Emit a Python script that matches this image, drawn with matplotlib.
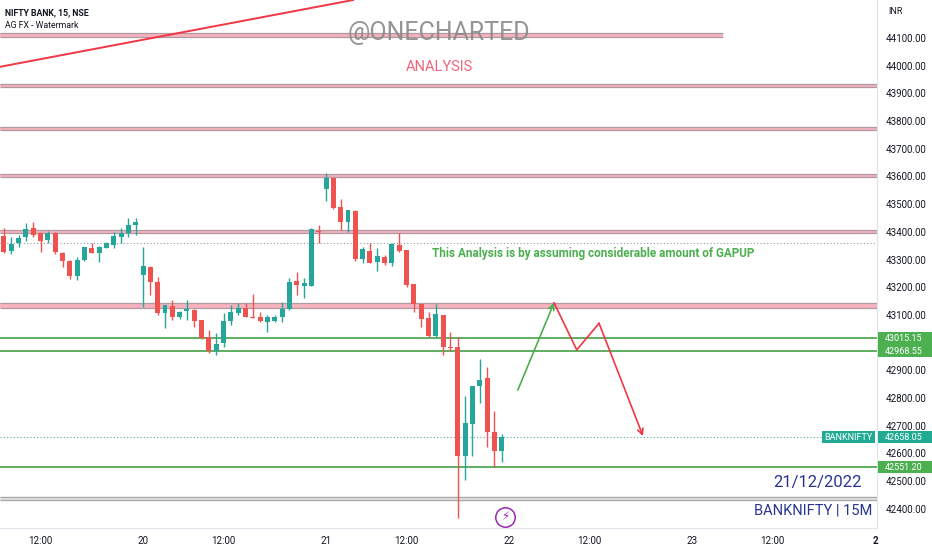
import matplotlib
matplotlib.use("Agg")
import matplotlib.pyplot as plt
import matplotlib.transforms as mtransforms
from matplotlib.patches import Rectangle
import numpy as np

plt.rcParams['font.family'] = ['Roboto', 'DejaVu Sans']

# 15 minute candles, bar index 0 = first bar of the 20th
first_bar = -19
opens = [43385, 43332, 43359, 43383, 43414, 43397, 43371, 43395, 43323, 43296,
         43241, 43299, 43341, 43323, 43343, 43353, 43382, 43395, 43425,
         43244, 43272, 43219, 43106, 43133, 43092, 43115, 43118, 43082, 43022,
         42971, 43000, 43078, 43108, 43126, 43094, 43094, 43076, 43079, 43094,
         43121, 43223, 43205, 43206, 43404,
         43554, 43594, 43491, 43435, 43475, 43301, 43331, 43292, 43311, 43287,
         43353, 43335, 43211, 43140, 43088, 43024, 43100, 42986, 42986, 42591,
         42707, 42844, 42874, 42677, 42610]
highs = [43413, 43381, 43389, 43433, 43436, 43400, 43403, 43401, 43329, 43300,
         43308, 43347, 43359, 43349, 43364, 43401, 43413, 43449, 43449,
         43347, 43277, 43236, 43136, 43154, 43113, 43154, 43120, 43082, 43046,
         43034, 43106, 43136, 43144, 43142, 43175, 43112, 43100, 43100, 43148,
         43233, 43254, 43233, 43413, 43425,
         43612, 43594, 43518, 43479, 43479, 43344, 43361, 43341, 43317, 43359,
         43397, 43335, 43211, 43140, 43112, 43140, 43100, 43040, 43020, 42808,
         42844, 42940, 42913, 42755, 42670]
lows = [43323, 43319, 43344, 43368, 43383, 43329, 43361, 43319, 43274, 43229,
        43226, 43296, 43323, 43292, 43341, 43343, 43359, 43381, 43389,
        43130, 43172, 43100, 43052, 43082, 43086, 43082, 43056, 43012, 42964,
        42956, 42986, 43064, 43100, 43094, 43088, 43074, 43040, 43074, 43076,
        43118, 43172, 43160, 43206, 43359,
        43513, 43482, 43407, 43399, 43296, 43287, 43287, 43259, 43280, 43278,
        43329, 43200, 43112, 43058, 43022, 43022, 42956, 42971, 42368, 42504,
        42591, 42783, 42625, 42552, 42570]
closes = [43329, 43356, 43379, 43410, 43390, 43368, 43395, 43326, 43295, 43242,
          43299, 43344, 43323, 43344, 43361, 43385, 43396, 43425, 43437,
          43277, 43220, 43106, 43135, 43092, 43110, 43120, 43079, 43018, 42970,
          42995, 43080, 43110, 43126, 43094, 43090, 43078, 43092, 43094, 43122,
          43218, 43208, 43217, 43409, 43400,
          43594, 43487, 43435, 43479, 43301, 43337, 43287, 43313, 43289, 43356,
          43332, 43208, 43139, 43086, 43024, 43103, 42986, 42981, 42591, 42709,
          42844, 42865, 42679, 42610, 42658]

# 43000 is hidden behind the level labels on the scale
price_ticks = [p for p in range(42400, 44101, 100) if p != 43000]
time_ticks = [-14, 0, 11, 25, 36, 50, 61, 75, 86, 100]
time_labels = ["12:00", "20", "12:00", "21", "12:00", "22", "12:00", "23", "12:00", "2"]

# supply zones (centre, half height, right end in bars)
zone_mid = [44111, 43928, 43772, 43603, 43401, 43135]
zone_half = [6, 5, 5, 5, 5, 10]
zone_end = [79.2, None, None, None, None, None]
grey_zone = 42438
support_levels = [43015.15, 42968.55, 42551.20]
last_price = 42658.05
prev_close = 43360

trend_x = [-19.5, 28.7]
trend_y = [43996, 44237]
up_path_x = [51.2, 56.15]
up_path_y = [42829, 43144]
down_path_x = [56.15, 59.25, 62.3, 68.3]
down_path_y = [43144, 42974, 43070, 42663]

UP = '#26a69a'
DOWN = '#ef5350'
X0, X1 = -19.54, 100.27
Y0, Y1 = 42331, 44237

fig = plt.figure(figsize=(9.32, 5.5), dpi=100)
ax = fig.add_axes([0, 22 / 550, 877 / 932, 528 / 550])
ax.set_xlim(X0, X1)
ax.set_ylim(Y0, Y1)

# zones
for mid, half, end in zip(zone_mid, zone_half, zone_end):
    xe = X1 if end is None else end
    ax.fill_between([X0, xe], mid - half, mid + half, color='#f7b3be', lw=0, zorder=1)
    ax.hlines([mid - half, mid + half], X0, xe, color='#b09aa2', lw=0.9, zorder=1)
ax.fill_between([X0, X1], grey_zone - 6, grey_zone + 6, color='#e6e6e6', lw=0, zorder=1)
ax.hlines([grey_zone - 6, grey_zone + 6], X0, X1, color='#a9aaa9', lw=1.0, zorder=1)

ax.hlines(support_levels, X0, X1, color='#43a047', lw=1.2, zorder=2)
ax.hlines(prev_close, X0, X1, color='#9598a1', lw=0.8, linestyles=(0, (1, 2)), zorder=2)
ax.hlines(last_price, X0, X1, color='#5aa9a2', lw=0.8, linestyles=(0, (1, 2)), zorder=2)

ax.plot(trend_x, trend_y, color='#f23645', lw=1.4, zorder=3)

# candles
xs = np.arange(first_bar, first_bar + len(opens))
o = np.array(opens)
c = np.array(closes)
cols = [UP if cc >= oo else DOWN for oo, cc in zip(o, c)]
ax.vlines(xs, lows, highs, colors=cols, lw=1.0, zorder=4)
body_lo = np.minimum(o, c)
body_h = np.maximum(np.abs(c - o), 4)
ax.bar(xs, body_h, bottom=body_lo, width=0.68, color=cols, lw=0, zorder=5)

# projection arrows
ax.annotate('', xy=(up_path_x[1], up_path_y[1]), xytext=(up_path_x[0], up_path_y[0]),
            arrowprops=dict(arrowstyle='->', color='#4caf50', lw=1.2, mutation_scale=10,
                            shrinkA=0, shrinkB=0), zorder=6)
ax.plot(down_path_x[:-1], down_path_y[:-1], color='#f23645', lw=1.2, zorder=6)
ax.annotate('', xy=(down_path_x[-1], down_path_y[-1]), xytext=(down_path_x[-2], down_path_y[-2]),
            arrowprops=dict(arrowstyle='->', color='#f23645', lw=1.2, mutation_scale=10,
                            shrinkA=0, shrinkB=0), zorder=6)

# axes styling
for s in ['top', 'left']:
    ax.spines[s].set_visible(False)
ax.spines['right'].set_color('#e0e3eb')
ax.spines['bottom'].set_color('#e0e3eb')
ax.yaxis.tick_right()
ax.set_yticks(price_ticks)
ax.set_yticklabels([f"{v:.2f}" for v in price_ticks])
ax.tick_params(axis='y', length=0, pad=6, labelsize=7, labelcolor='#131722')
ax.set_xticks(time_ticks)
ax.set_xticklabels(time_labels)
ax.tick_params(axis='x', length=0, pad=6, labelsize=7, labelcolor='#131722')
ax.get_xticklabels()[-1].set_fontweight('bold')

# price labels on the scale
bt = mtransforms.blended_transform_factory(ax.transAxes, ax.transData)
for lvl in support_levels:
    ax.add_patch(Rectangle((1.001, lvl - 22), 55 / 877, 44, transform=bt, clip_on=False,
                           color='#4caf50', lw=0, zorder=7))
    ax.text(885 / 877, lvl, f"{lvl:.2f}", transform=bt, color='white', fontsize=6.5,
            va='center', ha='left', zorder=8, clip_on=False)
ax.add_patch(Rectangle((1.001, last_price - 22), 55 / 877, 44, transform=bt, clip_on=False,
                       color='#22ab94', lw=0, zorder=7))
ax.text(885 / 877, last_price, f"{last_price:.2f}", transform=bt, color='white', fontsize=6.5,
        va='center', ha='left', zorder=8, clip_on=False)
ax.add_patch(Rectangle((822 / 877, last_price - 22), 53 / 877, 44, transform=bt,
                       color='#22ab94', lw=0, zorder=7))
ax.text(848.5 / 877, last_price, "BANKNIFTY", transform=bt, color='white', fontsize=6.5,
        va='center', ha='center', zorder=8)

# texts
fig.text(5 / 932, 1 - 13 / 550, "NIFTY BANK, 15, NSE", fontsize=6.3, fontweight='bold',
         color='#131722', va='center')
fig.text(5 / 932, 1 - 26 / 550, "AG FX - Watermark", fontsize=6.3, color='#131722', va='center')
fig.text(888 / 932, 1 - 12 / 550, "INR", fontsize=6.5, color='#131722', va='center')
fig.text(439 / 932, 1 - 33 / 550, "@ONECHARTED", fontsize=18, color='#8a8a8a', alpha=0.9,
         ha='center', va='center', zorder=0)
fig.text(439 / 932, 1 - 67 / 550, "ANALYSIS", fontsize=10.5, color='#f0647c',
         ha='center', va='center')
ax.text(432 / 877, 1 - 254 / 528, "This Analysis is by assuming considerable amount of GAPUP",
        transform=ax.transAxes, fontsize=8.5, fontweight='bold', color='#4caf50',
        ha='left', va='center')
ax.text(818 / 877, 1 - 482 / 528, "21/12/2022", transform=ax.transAxes, fontsize=12,
        color='#283593', ha='center', va='center')
ax.text(813 / 877, 1 - 510 / 528, "BANKNIFTY | 15M", transform=ax.transAxes, fontsize=10.5,
        color='#283593', ha='center', va='center')

# event marker
ax.plot([49.45], [42371], marker='o', ms=14, mfc='white', mec='#9c27b0', mew=1.1, zorder=8,
        clip_on=False)
ax.text(49.45, 42371, "\u26a1", fontsize=8.5, color='#9c27b0', ha='center', va='center',
        family=['DejaVu Sans'], zorder=9)

fig.savefig("out.png", dpi=100, facecolor='white')
